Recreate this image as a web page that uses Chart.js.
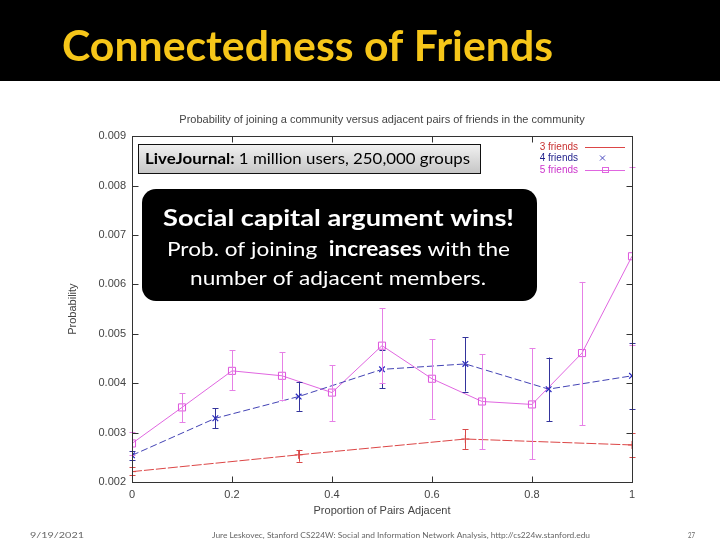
<!DOCTYPE html>
<html>
<head>
<meta charset="utf-8">
<script src="https://cdn.jsdelivr.net/npm/chart.js@4.4.1/dist/chart.umd.min.js"></script>
<style>
  html, body { margin: 0; padding: 0; background: #ffffff; }
  #wrap { position: relative; width: 720px; height: 540px; }
  canvas { display: block; }
</style>
</head>
<body>
<div id="wrap"><canvas id="c" width="720" height="540"></canvas></div>
<script>
// ---- data ----
const xTickLabels = ["0", "0.2", "0.4", "0.6", "0.8", "1"];
const yTickLabels = ["0.002", "0.003", "0.004", "0.005", "0.006", "0.007", "0.008", "0.009"];

const x3 = [0, 0.3333, 0.6667, 1];
const friends3 = [0.00221, 0.00255, 0.00287, 0.00275];
const friends3Low = [0.00214, 0.00241, 0.00267, 0.00251];
const friends3High = [0.00231, 0.00265, 0.00307, 0.00299];

const x4 = [0, 0.1667, 0.3333, 0.5, 0.6667, 0.8333, 1];
const friends4 = [0.00254, 0.00329, 0.00373, 0.00428, 0.00439, 0.00388, 0.00415];
const friends4Low = [0.00245, 0.00309, 0.00344, 0.00390, 0.00383, 0.00323, 0.00348];
const friends4High = [0.00263, 0.00349, 0.00403, 0.00467, 0.00493, 0.00452, 0.00482];

const x5 = [0, 0.1, 0.2, 0.3, 0.4, 0.5, 0.6, 0.7, 0.8, 0.9, 1];
const friends5 = [0.00278, 0.00351, 0.00425, 0.00415, 0.00381, 0.00476, 0.00409, 0.00363, 0.00357, 0.00461, 0.00657];
const friends5Low = [0.00255, 0.00321, 0.00386, 0.00367, 0.00323, 0.00400, 0.00328, 0.00266, 0.00246, 0.00315, 0.00477];
const friends5High = [0.00302, 0.00380, 0.00467, 0.00463, 0.00436, 0.00552, 0.00489, 0.00459, 0.00471, 0.00605, 0.00837];

const seriesNames = ["3 friends", "4 friends", "5 friends"];

// ---- build ----
function pts(xs, ys) { return xs.map((x, i) => ({ x: x, y: ys[i] })); }

const RED = "#dc4646", BLUE = "#4343b4", MAG = "#e066e0";

const datasets = [
  { label: seriesNames[0], data: pts(x3, friends3), errLow: friends3Low, errHigh: friends3High,
    borderColor: RED, backgroundColor: RED, borderWidth: 1, borderDash: [10, 2], showLine: true,
    pointStyle: "cross", pointRadius: 4, pointBorderColor: RED, pointBorderWidth: 1, errColor: "#d84a4a" },
  { label: seriesNames[1], data: pts(x4, friends4), errLow: friends4Low, errHigh: friends4High,
    borderColor: BLUE, backgroundColor: BLUE, borderWidth: 1, borderDash: [7, 3], showLine: true,
    pointStyle: "crossRot", pointRadius: 4, pointBorderColor: "#2828c0", pointBorderWidth: 1.2, errColor: "#34349c" },
  { label: seriesNames[2], data: pts(x5, friends5), errLow: friends5Low, errHigh: friends5High,
    borderColor: MAG, backgroundColor: "rgba(0,0,0,0)", borderWidth: 1, showLine: true,
    pointStyle: "rect", pointRadius: 5, pointBorderColor: "#dd55dd", pointBorderWidth: 1, errColor: "#e680e6" }
];

function fitText(ctx, text, x, y, width, align) {
  const w = ctx.measureText(text).width;
  const s = width / w;
  ctx.save();
  ctx.translate(x, y);
  ctx.scale(s, 1);
  ctx.textAlign = align || "left";
  ctx.fillText(text, 0, 0);
  ctx.restore();
}

const slidePlugin = {
  id: "slide",
  beforeDraw(chart) {
    const ctx = chart.ctx;
    ctx.save();
    ctx.fillStyle = "#ffffff";
    ctx.fillRect(0, 0, chart.width, chart.height);
    ctx.fillStyle = "#000000";
    ctx.fillRect(0, 0, chart.width, 81);
    ctx.fillStyle = "#f6c619";
    ctx.font = "bold 42px Lato";
    ctx.textBaseline = "alphabetic";
    fitText(ctx, "Connectedness of Friends", 62, 61, 491, "left");
    // footer
    ctx.fillStyle = "#666666";
    ctx.font = "8px Lato";
    fitText(ctx, "9/19/2021", 30, 538, 54, "left");
    fitText(ctx, "Jure Leskovec, Stanford CS224W: Social and Information Network Analysis, http://cs224w.stanford.edu", 212, 538, 378, "left");
    fitText(ctx, "27", 688, 538, 7, "left");
    ctx.restore();
  }
};

const errPlugin = {
  id: "errbars",
  afterDatasetsDraw(chart) {
    const ctx = chart.ctx, xs = chart.scales.x, ys = chart.scales.y, a = chart.chartArea;
    ctx.save();
    ctx.beginPath();
    ctx.rect(a.left - 4, a.top, a.right - a.left + 8, a.bottom - a.top);
    ctx.clip();
    chart.data.datasets.forEach(ds => {
      ctx.strokeStyle = ds.errColor;
      ctx.lineWidth = 1;
      ds.data.forEach((p, i) => {
        const px = Math.round(xs.getPixelForValue(p.x)) + 0.5;
        const y1 = ys.getPixelForValue(ds.errLow[i]);
        const y2 = ys.getPixelForValue(ds.errHigh[i]);
        ctx.beginPath();
        ctx.moveTo(px, y1); ctx.lineTo(px, y2);
        ctx.moveTo(px - 3, Math.round(y1) + 0.5); ctx.lineTo(px + 3, Math.round(y1) + 0.5);
        ctx.moveTo(px - 3, Math.round(y2) + 0.5); ctx.lineTo(px + 3, Math.round(y2) + 0.5);
        ctx.stroke();
      });
    });
    ctx.restore();

    // frame + inward ticks (gnuplot style)
    ctx.save();
    ctx.strokeStyle = "#333333";
    ctx.lineWidth = 1;
    const L = Math.round(a.left) + 0.5, R = Math.round(a.right) + 0.5, T = Math.round(a.top) + 0.5, B = Math.round(a.bottom) + 0.5;
    ctx.strokeRect(L, T, R - L, B - T);
    ctx.beginPath();
    ys.ticks.forEach(t => {
      const py = Math.round(ys.getPixelForValue(t.value)) + 0.5;
      ctx.moveTo(L, py); ctx.lineTo(L + 6, py);
      ctx.moveTo(R, py); ctx.lineTo(R - 6, py);
    });
    xs.ticks.forEach(t => {
      const px = Math.round(xs.getPixelForValue(t.value)) + 0.5;
      ctx.moveTo(px, B); ctx.lineTo(px, B - 6);
      ctx.moveTo(px, T); ctx.lineTo(px, T + 6);
    });
    ctx.stroke();
    ctx.restore();
  },
  afterDraw(chart) {
    const ctx = chart.ctx;
    ctx.save();
    // legend (gnuplot style, top right)
    ctx.font = "10px 'Liberation Sans'";
    ctx.textAlign = "right";
    ctx.textBaseline = "middle";
    const lx = 578, rows = [147, 158, 170];
    const cols = ["#c83030", "#1e1e8a", "#cc33cc"];
    chart.data.datasets.forEach((ds, i) => {
      ctx.fillStyle = cols[i];
      ctx.fillText(ds.label, lx, rows[i]);
    });
    ctx.lineWidth = 1;
    ctx.strokeStyle = RED;
    ctx.beginPath(); ctx.moveTo(585, rows[0] + 0.5); ctx.lineTo(625, rows[0] + 0.5); ctx.stroke();
    ctx.strokeStyle = "#4a4ac0";
    ctx.beginPath();
    ctx.moveTo(600, rows[1] - 2.5); ctx.lineTo(605, rows[1] + 2.5);
    ctx.moveTo(605, rows[1] - 2.5); ctx.lineTo(600, rows[1] + 2.5);
    ctx.stroke();
    ctx.strokeStyle = MAG;
    ctx.beginPath(); ctx.moveTo(585, rows[2] + 0.5); ctx.lineTo(625, rows[2] + 0.5); ctx.stroke();
    ctx.strokeRect(602.5, rows[2] - 2.5, 6, 5);

    // LiveJournal box
    const g = ctx.createLinearGradient(0, 144, 0, 174);
    g.addColorStop(0, "#f2f2f2");
    g.addColorStop(1, "#c4c4c4");
    ctx.fillStyle = g;
    ctx.fillRect(138.5, 144.5, 342, 29);
    ctx.strokeStyle = "#111111";
    ctx.lineWidth = 1;
    ctx.strokeRect(138.5, 144.5, 342, 29);
    ctx.fillStyle = "#000000";
    ctx.textAlign = "left";
    ctx.textBaseline = "alphabetic";
    ctx.font = "bold 16px Lato";
    const boldPart = "LiveJournal:";
    const restPart = " 1 million users, 250,000 groups";
    const wb = ctx.measureText(boldPart).width;
    ctx.font = "16px Lato";
    const wr = ctx.measureText(restPart).width;
    const s = 325 / (wb + wr);
    ctx.save();
    ctx.translate(145, 164);
    ctx.scale(s, 1);
    ctx.font = "bold 16px Lato";
    ctx.fillText(boldPart, 0, 0);
    ctx.font = "16px Lato";
    ctx.fillText(restPart, wb, 0);
    ctx.restore();

    // black call-out box
    ctx.fillStyle = "#000000";
    ctx.beginPath();
    ctx.roundRect(142, 189, 395, 112, 14);
    ctx.fill();
    ctx.fillStyle = "#ffffff";
    ctx.font = "bold 23px Lato";
    fitText(ctx, "Social capital argument wins!", 163, 226, 351, "left");
    // line 2 with bold word
    const p1 = "Prob. of joining  ", p2 = "increases", p3 = " with the";
    ctx.font = "20px Lato"; const w1 = ctx.measureText(p1).width;
    ctx.font = "bold 20px Lato"; const w2 = ctx.measureText(p2).width;
    ctx.font = "20px Lato"; const w3 = ctx.measureText(p3).width;
    const s2 = 343 / (w1 + w2 + w3);
    ctx.save();
    ctx.translate(167, 256);
    ctx.scale(s2, 1);
    ctx.font = "20px Lato"; ctx.fillText(p1, 0, 0);
    ctx.font = "bold 20px Lato"; ctx.fillText(p2, w1, 0);
    ctx.font = "20px Lato"; ctx.fillText(p3, w1 + w2, 0);
    ctx.restore();
    ctx.font = "20px Lato";
    fitText(ctx, "number of adjacent members.", 190, 285, 296, "left");
    ctx.restore();
  }
};

const chart = new Chart(document.getElementById("c"), {
  type: "scatter",
  data: { datasets: datasets },
  options: {
    responsive: false,
    animation: false,
    devicePixelRatio: 1,
    layout: { padding: { left: 62, right: 88, top: 106, bottom: 18 } },
    plugins: {
      legend: { display: false },
      tooltip: { enabled: false },
      title: {
        display: true,
        fullSize: false,
        text: "Probability of joining a community versus adjacent pairs of friends in the community",
        color: "#444444",
        font: { family: "'Liberation Sans', Arial", size: 11, weight: "normal" },
        padding: { top: 7, bottom: 10 }
      }
    },
    scales: {
      x: {
        type: "linear", min: 0, max: 1,
        afterFit: s => { s.height = 40; },
        afterBuildTicks: s => { s.ticks = xTickLabels.map(v => ({ value: parseFloat(v) })); },
        grid: { display: false, drawTicks: false },
        border: { display: false },
        ticks: { padding: 6, color: "#444444", font: { family: "'Liberation Sans', Arial", size: 11 },
                 callback: (v, i) => xTickLabels[i] },
        title: { display: true, text: "Proportion of Pairs Adjacent", color: "#444444",
                 font: { family: "'Liberation Sans', Arial", size: 11 }, padding: { top: 0, bottom: 4 } }
      },
      y: {
        type: "linear", min: 0.002, max: 0.009,
        afterFit: s => { s.width = 70; },
        afterBuildTicks: s => { s.ticks = yTickLabels.map(v => ({ value: parseFloat(v) })); },
        grid: { display: false, drawTicks: false },
        border: { display: false },
        ticks: { padding: 6, color: "#444444", font: { family: "'Liberation Sans', Arial", size: 11 },
                 callback: (v, i) => yTickLabels[i] },
        title: { display: true, text: "Probability", color: "#444444",
                 font: { family: "'Liberation Sans', Arial", size: 11 }, padding: { top: 4, bottom: 0 } }
      }
    }
  },
  plugins: [slidePlugin, errPlugin]
});
</script>
</body>
</html>
